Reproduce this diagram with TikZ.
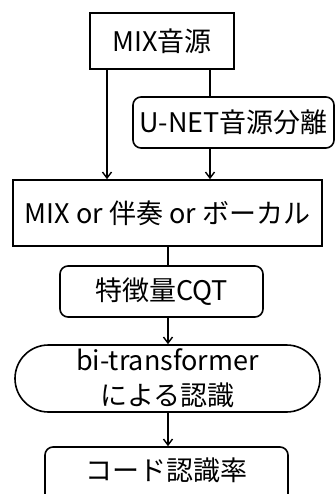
\documentclass[tikz,border=0pt]{standalone}
\usepackage{fontspec}
\setmainfont{Noto Sans CJK JP}
\usetikzlibrary{arrows.meta}
\begin{document}
\begin{tikzpicture}[x=1pt,y=-1pt,
  box/.style={draw,line width=1.6pt,inner sep=0pt,font=\fontsize{27}{35}\selectfont,align=center},
  rbox/.style={box,rounded corners=8pt},
  conn/.style={line width=1.6pt},
  arr/.style={conn,-{Straight Barb[length=6pt,width=9pt,line width=1.4pt]}}]
\path[use as bounding box] (0,0) rectangle (335,494);
\clip (0,0) rectangle (335,494);
\node[box,minimum width=144pt,minimum height=56pt] (b1) at (162,41) {MIX音源};
\node[rbox,minimum width=201pt,minimum height=51pt] (b2) at (233.5,122.5) {U-NET音源分離};
\node[box,minimum width=309pt,minimum height=66pt] (b3) at (167.5,213) {MIX or 伴奏 or ボーカル};
\node[rbox,minimum width=203pt,minimum height=51pt] (b4) at (161.5,291.5) {特徴量CQT};
\node[box,rounded corners=33.5pt,minimum width=305pt,minimum height=67pt] (b5) at (167.5,378.5) {bi-transformer\\による認識};
\node[rbox,minimum width=243pt,minimum height=60pt,text depth=0pt] (b6) at (166.5,477) {};
\node[font=\fontsize{27}{35}\selectfont] (t6) at (166.5,470) {コード認識率};
\coordinate (xl) at (107,0);
\coordinate (xr) at (210,0);
\coordinate (xc) at (168,0);
\draw[arr] (b1.south -| xl) -- (b3.north -| xl);
\draw[conn] (b1.south -| xr) -- (b2.north -| xr);
\draw[arr] (b2.south -| xr) -- (b3.north -| xr);
\draw[conn] (b3.south -| xc) -- (b4.north -| xc);
\draw[arr] (b4.south -| xc) -- (b5.north -| xc);
\draw[arr] (b5.south -| xc) -- (b6.north -| xc);
\end{tikzpicture}
\end{document}
